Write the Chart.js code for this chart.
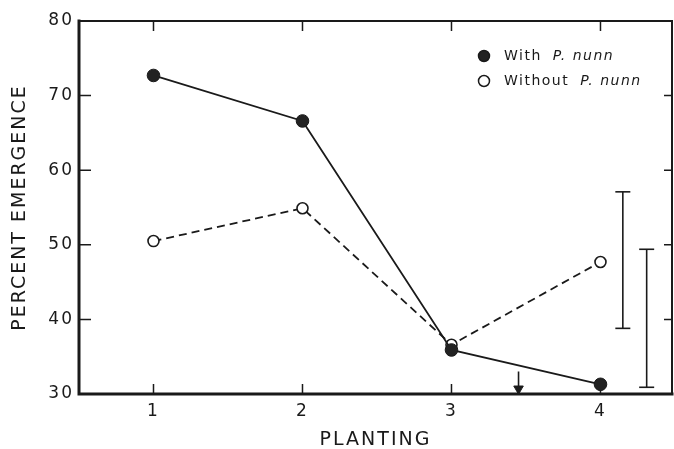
<!DOCTYPE html>
<html>
<head>
<meta charset="utf-8">
<title>Percent emergence by planting</title>
<style>
  body { margin: 0; background: #fff; }
  #wrap { width: 674px; height: 449px; }
</style>
</head>
<body>
<div id="wrap"><canvas id="chart" width="674" height="449"></canvas></div>
<script src="https://cdn.jsdelivr.net/npm/chart.js"></script>
<script>
// values
const plantings = [1, 2, 3, 4];
const withNunn = [72.7, 66.6, 35.9, 31.3];
const withoutNunn = [50.5, 54.9, 36.6, 47.7];
const barX = [4.15, 4.31];
const barLow = [38.8, 30.9];
const barHigh = [57.1, 49.4];
const arrowX = [3.45];
const arrowY = [33.0, 30.7];
const yTicks = [30, 40, 50, 60, 70, 80];
const innerTicksY = [40, 50, 60, 70];

const FONT = '"DejaVu Sans", sans-serif';
const ink = '#1a1a1a';

// keep the plot frame flush with the canvas edge (no extra room for point overflow)
Chart.registry.getController('line').prototype.getMaxOverflow = function () { return 0; };

const datasets = [
    {
        label: 'With P. nunn',
        data: plantings.map((p, i) => ({ x: p, y: withNunn[i] })),
        borderColor: ink,
        borderWidth: 1.8,
        backgroundColor: ink,
        pointBackgroundColor: '#222',
        pointBorderColor: ink,
        pointRadius: 6.3,
        pointBorderWidth: 1,
        tension: 0
    },
    {
        label: 'Without P. nunn',
        data: plantings.map((p, i) => ({ x: p, y: withoutNunn[i] })),
        borderColor: ink,
        borderWidth: 1.8,
        borderDash: [8, 5],
        pointBackgroundColor: '#fff',
        pointBorderColor: ink,
        pointRadius: 5.5,
        pointBorderWidth: 1.6,
        tension: 0
    }
];

barX.forEach((bx, i) => {
    datasets.push({
        label: 'bar' + i,
        data: [{ x: bx, y: barLow[i] }, { x: bx, y: barHigh[i] }],
        borderColor: ink,
        borderWidth: 1.6,
        pointStyle: 'line',
        pointRadius: 7.5,
        pointBorderWidth: 1.6,
        pointBorderColor: ink
    });
});

datasets.push({
    label: 'arrow',
    data: arrowY.map(v => ({ x: arrowX[0], y: v })),
    borderColor: ink,
    borderWidth: 1.6,
    pointStyle: 'triangle',
    rotation: 180,
    pointRadius: [0, 5.5],
    pointBackgroundColor: ink,
    pointBorderColor: ink,
    pointBorderWidth: 1
});

// frame, inward ticks and text spacing
const framePlugin = {
    id: 'frame',
    beforeDraw(chart) {
        chart.ctx.letterSpacing = '2px';
    },
    beforeDatasetsDraw(chart) {
        const ctx = chart.ctx;
        ctx.letterSpacing = '0px';
        const a = chart.chartArea;
        const xs = chart.scales.x, ys = chart.scales.y;
        ctx.save();
        ctx.strokeStyle = ink;
        ctx.lineCap = 'square';
        ctx.lineWidth = 2;
        ctx.beginPath();
        ctx.moveTo(a.left, a.top);
        ctx.lineTo(a.right, a.top);
        ctx.lineTo(a.right, a.bottom);
        ctx.stroke();
        ctx.lineWidth = 3;
        ctx.beginPath();
        ctx.moveTo(a.left, a.top);
        ctx.lineTo(a.left, a.bottom);
        ctx.lineTo(a.right, a.bottom);
        ctx.stroke();

        ctx.lineWidth = 1.5;
        ctx.lineCap = 'butt';
        ctx.beginPath();
        innerTicksY.forEach(v => {
            const py = ys.getPixelForValue(v);
            ctx.moveTo(a.left, py); ctx.lineTo(a.left + 12, py);
            ctx.moveTo(a.right, py); ctx.lineTo(a.right - 8, py);
        });
        plantings.forEach(v => {
            const px = xs.getPixelForValue(v);
            ctx.moveTo(px, a.bottom); ctx.lineTo(px, a.bottom - 10);
            ctx.moveTo(px, a.top); ctx.lineTo(px, a.top + 10);
        });
        ctx.stroke();
        ctx.restore();
    },
    afterDraw(chart) {
        // legend with italic species name
        const ctx = chart.ctx;
        const a = chart.chartArea;
        const rows = [
            { fill: '#222', word: 'With', y: a.top + 35 },
            { fill: '#fff', word: 'Without', y: a.top + 60 }
        ];
        const mx = a.right - 188;
        ctx.save();
        ctx.letterSpacing = '1.5px';
        ctx.textBaseline = 'middle';
        ctx.fillStyle = ink;
        rows.forEach(r => {
            ctx.beginPath();
            ctx.arc(mx, r.y, 5.5, 0, Math.PI * 2);
            ctx.fillStyle = r.fill;
            ctx.fill();
            ctx.lineWidth = 1.5;
            ctx.strokeStyle = ink;
            ctx.stroke();
            ctx.fillStyle = ink;
            ctx.font = '14px ' + FONT;
            ctx.fillText(r.word, mx + 20, r.y);
            const w = ctx.measureText(r.word).width;
            ctx.font = 'italic 14px ' + FONT;
            ctx.fillText('P. nunn', mx + 20 + w + 11, r.y);
        });
        ctx.restore();
    }
};

new Chart(document.getElementById('chart'), {
    type: 'line',
    data: { datasets },
    options: {
        responsive: false,
        animation: false,
        layout: { padding: { left: 0, right: 2, top: 21, bottom: 0 } },
        plugins: {
            legend: { display: false },
            tooltip: { enabled: false }
        },
        scales: {
            x: {
                type: 'linear',
                min: 0.5,
                max: 4.48,
                afterBuildTicks: s => { s.ticks = plantings.map(v => ({ value: v })); },
                afterFit: s => { s.height = 55; s.paddingLeft = 0; s.paddingRight = 0; },
                grid: { display: false, drawTicks: false },
                border: { display: false },
                ticks: { color: ink, font: { family: FONT, size: 17 }, padding: 7, maxRotation: 0 },
                title: {
                    display: true,
                    text: 'PLANTING',
                    color: ink,
                    font: { family: FONT, size: 19, lineHeight: 1 },
                    padding: { top: 0, bottom: -1 }
                }
            },
            y: {
                min: 30,
                max: 80,
                afterBuildTicks: s => { s.ticks = yTicks.map(v => ({ value: v })); },
                afterFit: s => { s.width = 79; s.paddingTop = 0; s.paddingBottom = 0; },
                grid: { display: false, drawTicks: false },
                border: { display: false },
                ticks: { color: ink, font: { family: FONT, size: 17 }, padding: 5 },
                title: {
                    display: true,
                    text: 'PERCENT EMERGENCE',
                    color: ink,
                    font: { family: FONT, size: 19, lineHeight: 1.2 },
                    padding: { top: 9, bottom: 0 }
                }
            }
        }
    },
    plugins: [framePlugin]
});
</script>
</body>
</html>
